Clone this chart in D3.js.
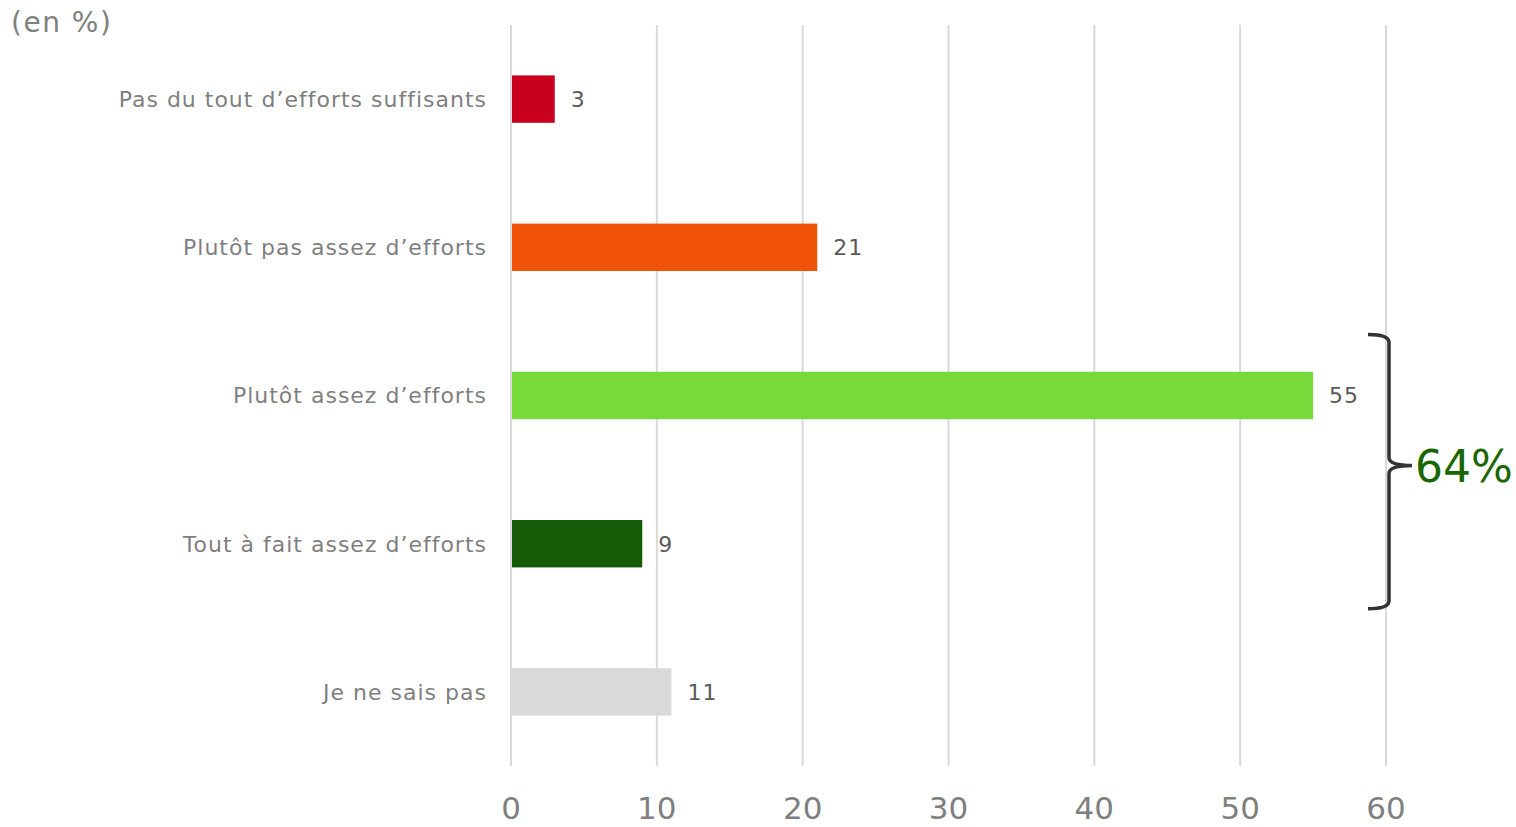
<!DOCTYPE html>
<html>
<head>
<meta charset="utf-8">
<script src="https://d3js.org/d3.v7.min.js"></script>
<style>
  body { margin: 0; background: #fff; font-family: "DejaVu Sans", Verdana, sans-serif; }
</style>
</head>
<body>
<div id="chart"></div>
<script>
// data
var categories = ["Pas du tout d\u2019efforts suffisants", "Plut\u00f4t pas assez d\u2019efforts",
                  "Plut\u00f4t assez d\u2019efforts", "Tout \u00e0 fait assez d\u2019efforts", "Je ne sais pas"];
var values = [3, 21, 55, 9, 11];
var colors = ["#c8001e", "#f05308", "#77d93a", "#145a07", "#d9d9d9"];
var ticks = [0, 10, 20, 30, 40, 50, 60];
var totalLabel = "64%";

var W = 1516, H = 827;
var svg = d3.select("#chart").append("svg")
    .attr("width", W).attr("height", H);

var x = d3.scaleLinear().domain([0, 60]).range([511, 1386]);
var y = d3.scaleBand().domain(categories).range([25, 766]).paddingInner(0.68).paddingOuter(0.34);

// gridlines
svg.append("g").selectAll("line")
    .data(ticks).enter().append("line")
    .attr("x1", d => x(d)).attr("x2", d => x(d))
    .attr("y1", 25).attr("y2", 766)
    .attr("stroke", "#d9d9d9").attr("stroke-width", 2);

// tick labels
svg.append("g").selectAll("text")
    .data(ticks).enter().append("text")
    .attr("x", d => x(d)).attr("y", 819)
    .attr("text-anchor", "middle")
    .attr("font-size", 31).attr("fill", "#7f7f7f")
    .text(d => d);

// bars
svg.append("g").selectAll("rect")
    .data(values).enter().append("rect")
    .attr("x", x(0) + 1)
    .attr("y", (d, i) => y(categories[i]))
    .attr("width", d => x(d) - x(0) - 1)
    .attr("height", y.bandwidth())
    .attr("fill", (d, i) => colors[i]);

// value labels
svg.append("g").selectAll("text")
    .data(values).enter().append("text")
    .attr("x", d => x(d) + 16)
    .attr("y", (d, i) => y(categories[i]) + y.bandwidth() / 2)
    .attr("dy", "0.36em")
    .attr("font-size", 22).attr("letter-spacing", 1).attr("fill", "#595959")
    .text(d => d);

// category labels
svg.append("g").selectAll("text")
    .data(categories).enter().append("text")
    .attr("x", 487)
    .attr("y", d => y(d) + y.bandwidth() / 2)
    .attr("dy", "0.36em")
    .attr("text-anchor", "end")
    .attr("font-size", 22).attr("letter-spacing", 1).attr("fill", "#7f7f7f")
    .text(d => d);

// unit
svg.append("text").attr("x", 11).attr("y", 32)
    .attr("font-size", 28).attr("letter-spacing", 1.5).attr("fill", "#808080")
    .text("(en %)");

// bracket around the two "assez" answers
var c3 = y(categories[2]) + y.bandwidth() / 2,
    c4 = y(categories[3]) + y.bandwidth() / 2;
var bTop = c3 - 61, bBot = c4 + 65, bMid = (c3 + c4) / 2 - 4;
var bx = 1389;
svg.append("path")
    .attr("d", "M1368," + bTop + " Q" + bx + "," + bTop + " " + bx + "," + (bTop + 8) +
               " L" + bx + "," + (bMid - 8) + " Q" + bx + "," + bMid + " 1412," + bMid +
               " Q" + bx + "," + bMid + " " + bx + "," + (bMid + 8) +
               " L" + bx + "," + (bBot - 8) + " Q" + bx + "," + bBot + " 1368," + bBot)
    .attr("fill", "none").attr("stroke", "#333").attr("stroke-width", 3.5);

svg.append("text").attr("x", 1415).attr("y", bMid + 16)
    .attr("font-size", 44).attr("fill", "#1a6600")
    .text(totalLabel);
</script>
</body>
</html>
